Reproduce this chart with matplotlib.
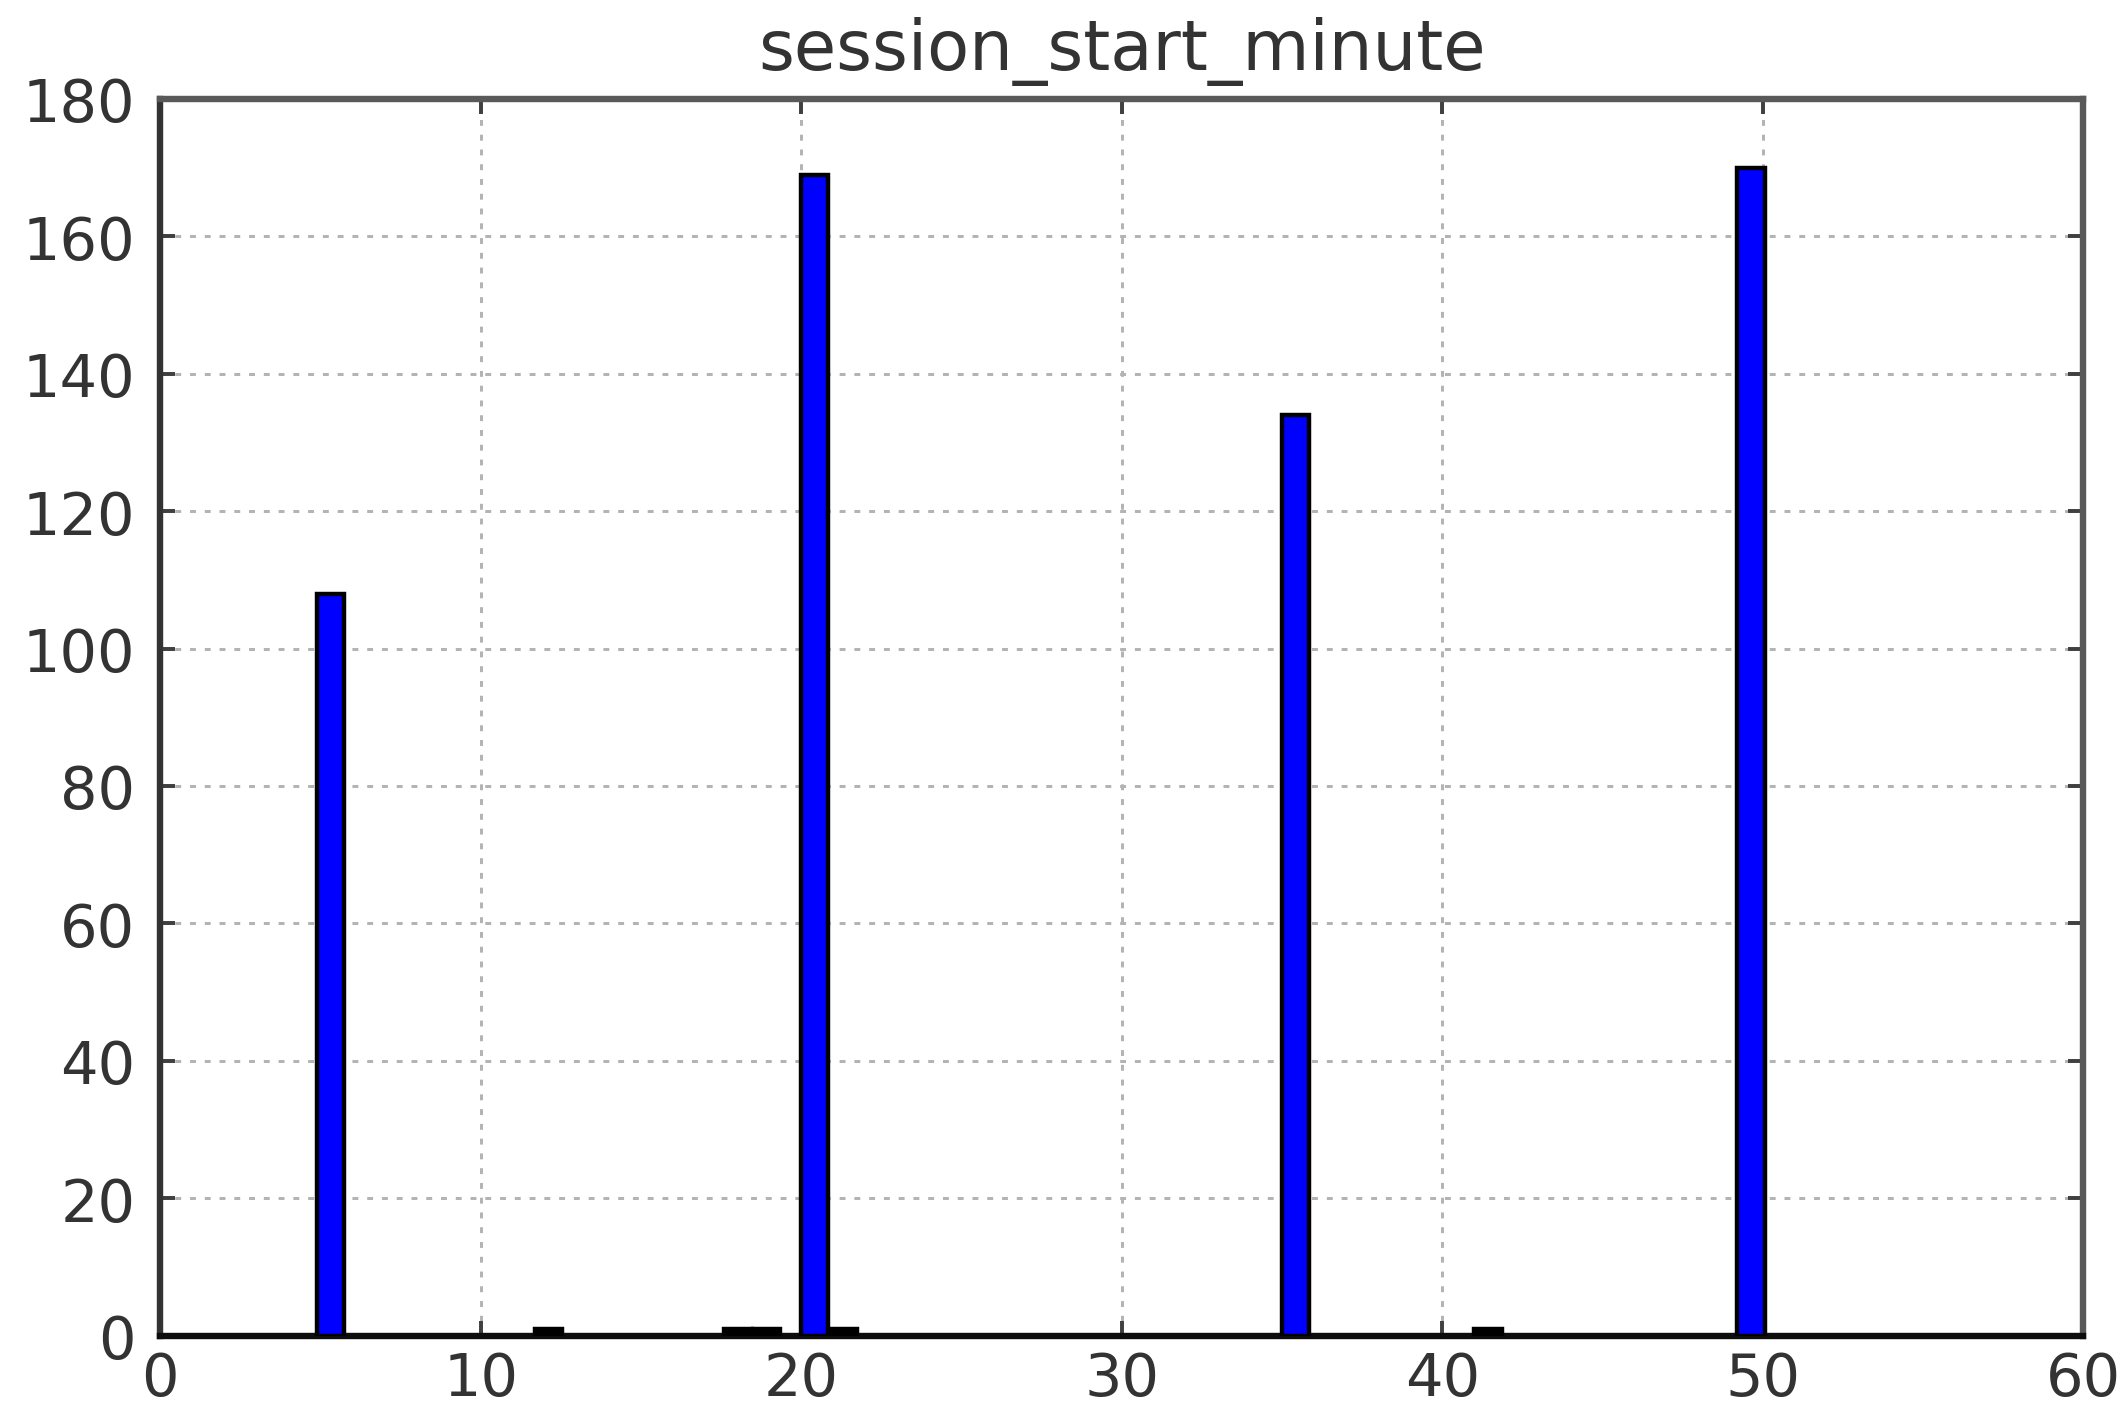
import numpy as np
import matplotlib
matplotlib.use('Agg')
import matplotlib.pyplot as plt

# histogram bins (left edge, count)
bin_left = [4.9, 11.7, 17.6, 18.5, 20.0, 20.9, 35.0, 41.0, 49.2]
counts = [108, 1, 1, 1, 169, 1, 134, 1, 170]
bin_width = 0.85

fig = plt.figure(figsize=(6.0, 4.013), dpi=354.33)
ax = fig.add_axes([0.0753, 0.060, 0.9047, 0.8697])

colors = ['b' if c > 5 else 'k' for c in counts]
ax.bar(bin_left, counts, width=bin_width, align='edge', color=colors,
       edgecolor='k', linewidth=0.9, zorder=3)

ax.set_xlim(0, 60)
ax.set_ylim(0, 180)
ax.set_xticks(np.arange(0, 61, 10))
ax.set_yticks(np.arange(0, 181, 20))
ax.grid(True, color='0.7', linestyle=(0, (2, 3)), linewidth=0.6, zorder=0)
ax.tick_params(direction='in', length=3, width=0.8, top=True, right=True,
               labelsize=12, colors='0.25', labelcolor='0.2')
ax.tick_params(axis='x', pad=3)
ax.tick_params(axis='y', pad=5)
for s in ax.spines.values():
    s.set_linewidth(1.3)
    s.set_color('0.35')
ax.spines['bottom'].set_color('0.05')
ax.spines['left'].set_color('0.2')
ax.set_title('session_start_minute', fontsize=14, color='0.2', pad=6)

fig.savefig('out.png', dpi=354.33)
